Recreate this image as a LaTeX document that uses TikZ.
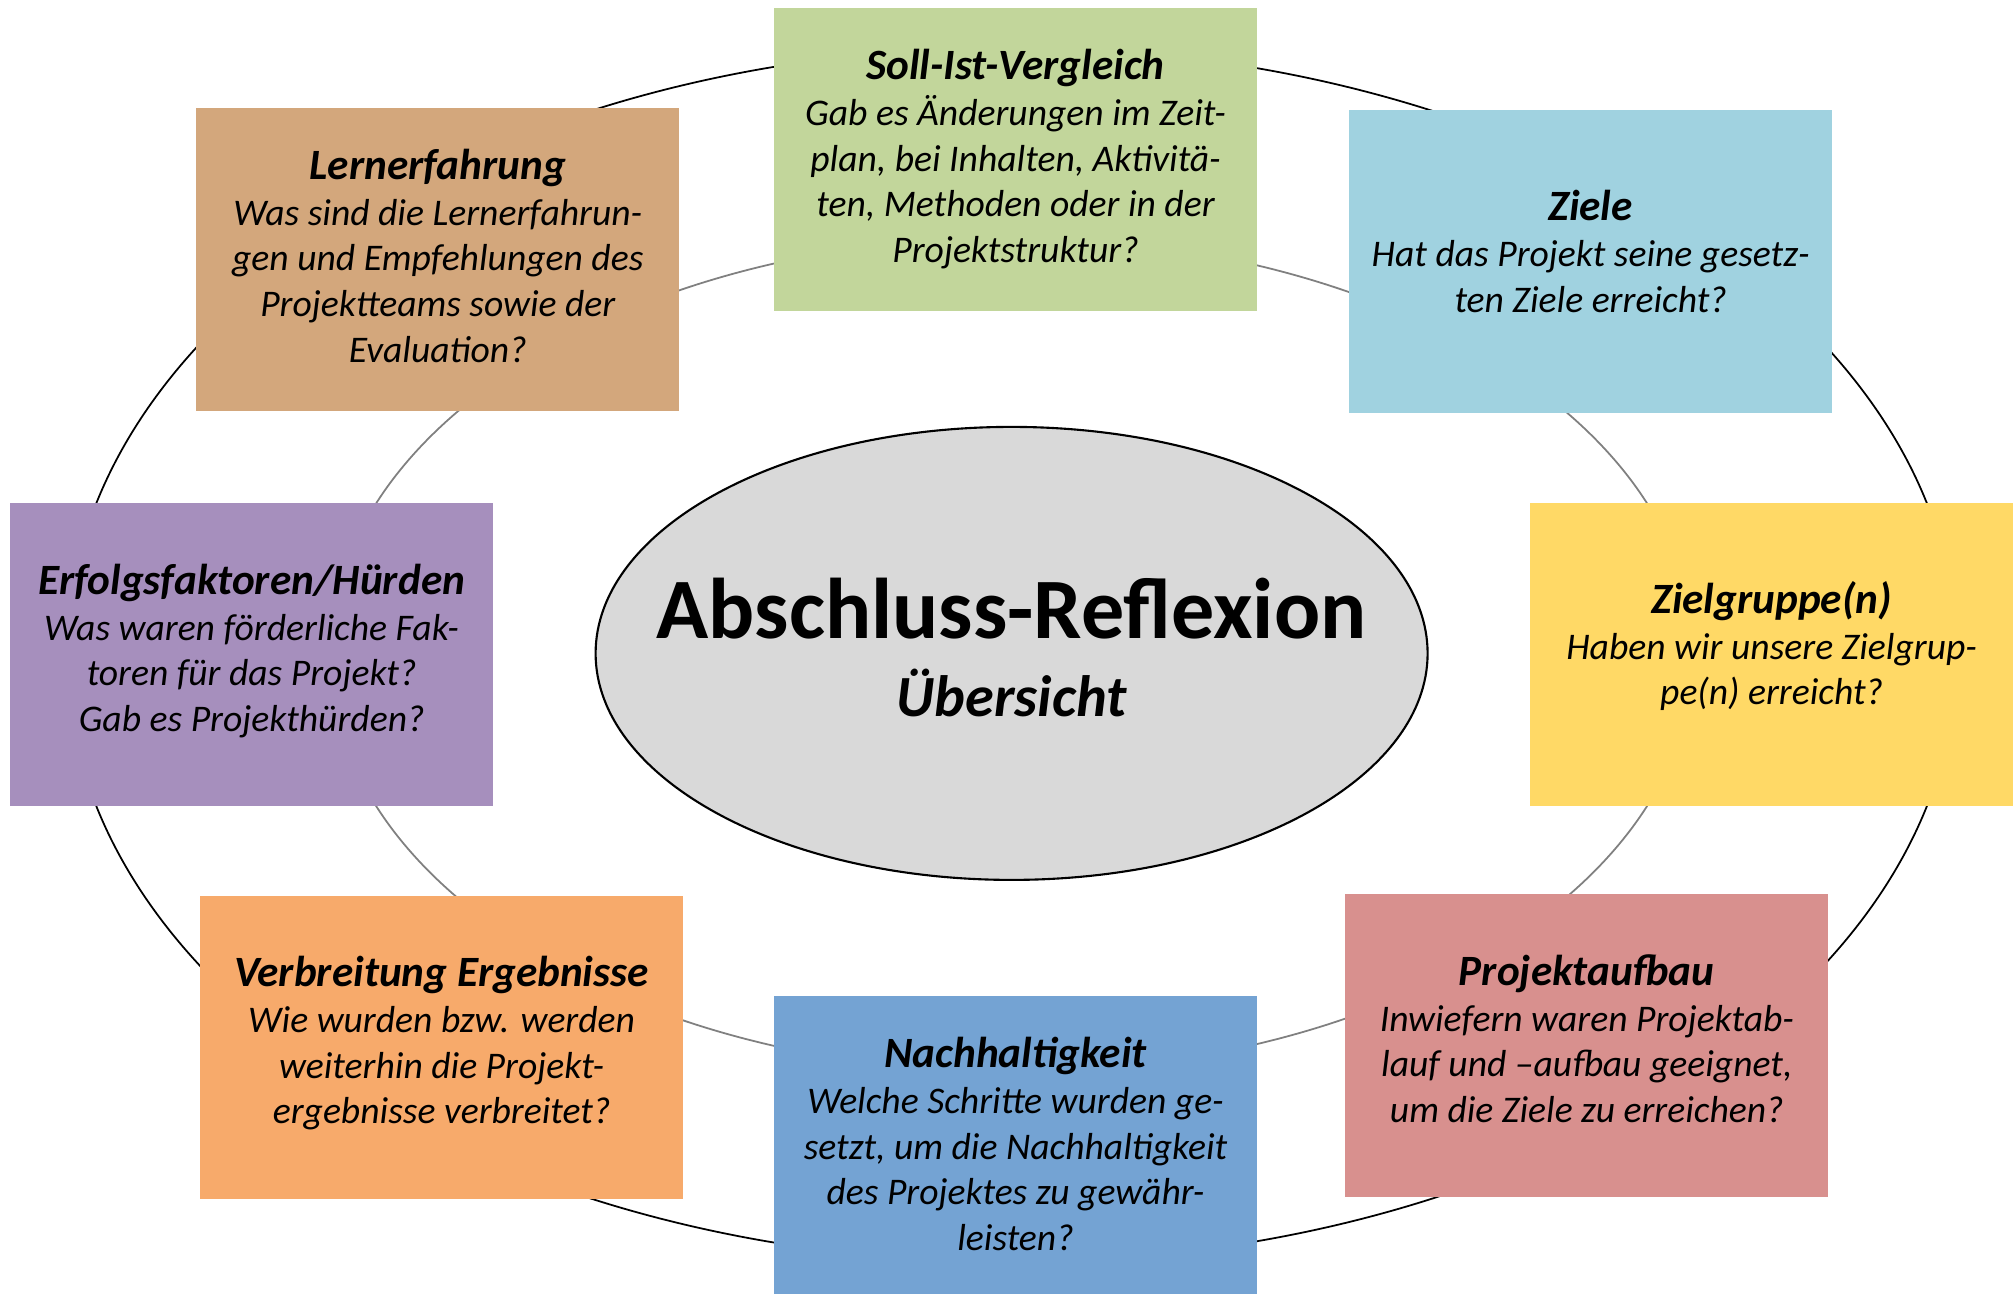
\documentclass[tikz,border=0pt]{standalone}
\usepackage{fontspec}
\setmainfont{Carlito}
\usetikzlibrary{shapes.geometric}
\definecolor{soll}{HTML}{C2D69B}
\definecolor{ziel}{HTML}{A0D2E0}
\definecolor{gruppe}{HTML}{FFD966}
\definecolor{aufbau}{HTML}{D8908E}
\definecolor{nachh}{HTML}{74A3D3}
\definecolor{verbr}{HTML}{F7AA6B}
\definecolor{erfolg}{HTML}{A68FBD}
\definecolor{lern}{HTML}{D3A77C}
\definecolor{mitte}{HTML}{D9D9D9}
\newcommand{\kopfzeile}[1]{{\fontsize{12.3}{13}\selectfont\bfseries #1}}

\begin{document}
\begin{tikzpicture}[
  feld/.style={minimum width=4.83cm,minimum height=3.03cm,inner sep=0pt},
  inhalt/.style={inner sep=0pt,align=center,font=\fontsize{10.7}{13}\selectfont\itshape}]
\useasboundingbox (0,0) rectangle (20.13,-12.94);
\fill[white] (0,0) rectangle (20.13,-12.94);
% Ringe
\draw[line width=.5pt] (10.116,-6.547) ellipse [x radius=9.449, y radius=6.072];
\draw[gray,line width=.5pt] (10.116,-6.547) ellipse [x radius=6.817, y radius=4.172];
% Felder
\node[feld,fill=soll] (sollist) at (10.155,-1.598) {};
\node[feld,fill=ziel] (ziele) at (15.906,-2.619) {};
\node[feld,fill=gruppe] (zielgruppe) at (17.716,-6.547) {};
\node[feld,fill=aufbau] (projektaufbau) at (15.868,-10.457) {};
\node[feld,fill=nachh] (nachhaltigkeit) at (10.155,-11.477) {};
\node[feld,fill=verbr] (verbreitung) at (4.416,-10.476) {};
\node[feld,fill=erfolg] (erfolg) at (2.516,-6.547) {};
\node[feld,fill=lern] (lernerfahrung) at (4.378,-2.593) {};
% Texte
\node[inhalt] (sollist-t) at ([yshift=.2pt]sollist)
  {\kopfzeile{Soll-Ist-Vergleich}\\Gab es Änderungen im Zeit-\\plan, bei Inhalten, Aktivitä-\\ten, Methoden oder in der\\Projektstruktur?};
\node[inhalt] (ziele-t) at ([yshift=3pt]ziele)
  {\kopfzeile{Ziele}\\Hat das Projekt seine gesetz-\\ten Ziele erreicht?};
\node[inhalt] (zielgruppe-t) at ([yshift=2.4pt]zielgruppe)
  {\kopfzeile{Zielgruppe(n)}\\Haben wir unsere Zielgrup-\\pe(n) erreicht?};
\node[inhalt] (projektaufbau-t) at ([yshift=2pt]projektaufbau)
  {\kopfzeile{Projektaufbau}\\Inwiefern waren Projektab-\\lauf und –aufbau geeignet,\\um die Ziele zu erreichen?};
\node[inhalt] (nachhaltigkeit-t) at ([yshift=1pt]nachhaltigkeit)
  {\kopfzeile{Nachhaltigkeit}\\Welche Schritte wurden ge-\\setzt, um die Nachhaltigkeit\\des Projektes zu gewähr-\\leisten?};
\node[inhalt] (verbreitung-t) at ([yshift=1.2pt]verbreitung)
  {\kopfzeile{Verbreitung Ergebnisse}\\Wie wurden bzw. werden\\weiterhin die Projekt-\\ergebnisse verbreitet?};
\node[inhalt] (erfolg-t) at ([yshift=1pt]erfolg)
  {\kopfzeile{Erfolgsfaktoren/Hürden}\\Was waren förderliche Fak-\\toren für das Projekt?\\Gab es Projekthürden?};
\node[inhalt] (lernerfahrung-t) at ([yshift=1pt]lernerfahrung)
  {\kopfzeile{Lernerfahrung}\\Was sind die Lernerfahrun-\\gen und Empfehlungen des\\Projektteams sowie der\\Evaluation?};
% Mitte
\node[ellipse,draw,line width=.6pt,fill=mitte,minimum width=8.32cm,minimum height=4.53cm,inner sep=0pt]
  (kern) at (10.116,-6.534) {};
\node[anchor=base,font=\fontsize{24.5}{28}\selectfont\bfseries] (titel) at (10.116,-6.38) {Abschluss-Reflexion};
\node[anchor=base,font=\fontsize{16.6}{19}\selectfont\bfseries\itshape] (untertitel) at (10.116,-7.164) {Übersicht};
\end{tikzpicture}
\end{document}
